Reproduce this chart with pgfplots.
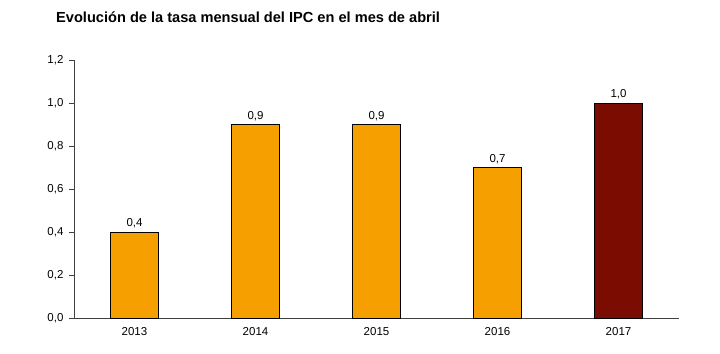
\documentclass[border=0pt]{standalone}
\usepackage{pgfplots}
\pgfplotsset{compat=1.18}
\usepackage{fontspec}
\setmainfont{Liberation Sans}
\definecolor{barorange}{RGB}{245,160,0}
\definecolor{bardark}{RGB}{122,12,2}
\begin{document}
\begin{tikzpicture}[x=1bp,y=1bp]
\path (0,0) rectangle (720,353);
\node[anchor=west,font=\fontsize{14.6bp}{17bp}\selectfont\bfseries,inner sep=0pt] at (56,336) {Evolución de la tasa mensual del IPC en el mes de abril};
\begin{axis}[
  at={(74bp,35bp)}, anchor=south west,
  scale only axis, width=605bp, height=258bp,
  xmin=-0.5, xmax=4.5, ymin=0, ymax=1.2,
  axis x line=bottom, axis y line=left,
  axis line style={-, black!75, line width=0.6bp},
  xtick={0,1,2,3,4},
  xticklabels={2013,2014,2015,2016,2017},
  xtick style={draw=none},
  extra x ticks={0.5,1.5,2.5,3.5},
  extra x tick labels={},
  extra x tick style={tick align=outside, major tick length=3bp, tick style={black!75, line width=0.6bp}},
  ytick={0,0.2,0.4,0.6,0.8,1.0,1.2},
  ytick align=outside,
  major tick length=5bp,
  ytick style={black!75, line width=0.6bp},
  tick label style={font=\fontsize{11.5bp}{13bp}\selectfont},
  x tick label style={yshift=-3bp},
  y tick label style={xshift=-2bp},
  /pgf/number format/assume math mode=true,
  /pgf/number format/.cd, use comma, fixed, fixed zerofill, precision=1,
  /pgfplots/.cd,
  nodes near coords,
  nodes near coords style={font=\fontsize{11.5bp}{13bp}\selectfont, /pgf/number format/assume math mode=true, /pgf/number format/use comma, /pgf/number format/fixed, /pgf/number format/fixed zerofill, /pgf/number format/precision=1, inner sep=3.5bp},
  clip=false,
]
\addplot[ybar, bar width=48bp, bar shift=0pt, fill=barorange, draw=black, line width=0.7bp] coordinates {(0,0.4) (1,0.9) (2,0.9) (3,0.7)};
\addplot[ybar, bar width=48bp, bar shift=0pt, fill=bardark, draw=black, line width=0.7bp] coordinates {(4,1.0)};
\end{axis}
\end{tikzpicture}
\end{document}
